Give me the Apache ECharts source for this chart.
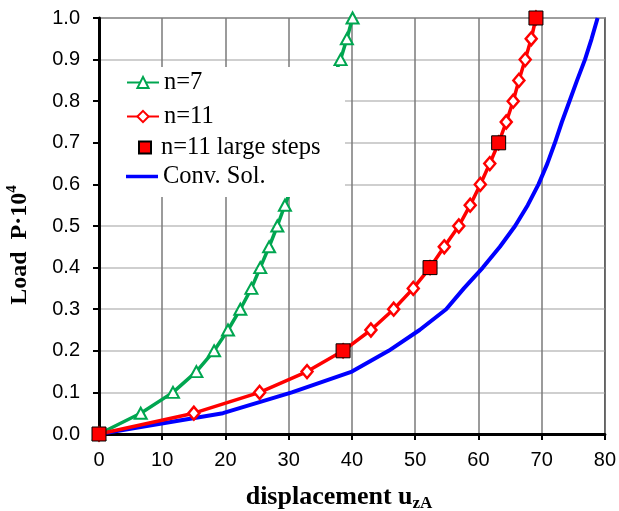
<!DOCTYPE html>
<html>
<head>
<meta charset="utf-8">
<script src="https://cdn.jsdelivr.net/npm/echarts@6/dist/echarts.min.js"></script>
<style>
  html, body { margin: 0; padding: 0; background: #fff; }
  #chart { width: 619px; height: 511px; }
</style>
</head>
<body>
<div id="chart"></div>
<script>
// Load levels (P·10^4) and displacements u_zA for each solution
const n7Load = [0, 0.05, 0.1, 0.15, 0.2, 0.25, 0.3, 0.35, 0.4, 0.45, 0.5, 0.55, 0.9, 0.95, 1.0];
const n7Disp = [0, 6.6, 11.7, 15.4, 18.2, 20.4, 22.35, 24.1, 25.5, 26.9, 28.2, 29.4, 38.2, 39.2, 40.1];

const n11Load = [0, 0.05, 0.1, 0.15, 0.2, 0.25, 0.3, 0.35, 0.4, 0.45, 0.5, 0.55, 0.6, 0.65, 0.7, 0.75, 0.8, 0.85, 0.9, 0.95, 1.0];
const n11Disp = [0, 15.0, 25.4, 32.9, 38.6, 43.0, 46.6, 49.7, 52.35, 54.6, 56.9, 58.7, 60.3, 61.8, 63.2, 64.4, 65.5, 66.4, 67.4, 68.35, 69.1];

const largeLoad = [0, 0.2, 0.4, 0.7, 1.0];
const largeDisp = [0, 38.6, 52.35, 63.2, 69.1];

const convLoad = [0, 0.05, 0.1, 0.15, 0.2, 0.25, 0.3, 0.35, 0.4, 0.45, 0.5, 0.55, 0.6, 0.65, 0.7, 0.75, 0.8, 0.85, 0.9, 0.95, 1.0];
const convDisp = [0, 19.6, 30.5, 40.0, 45.8, 50.7, 54.9, 57.7, 60.7, 63.4, 65.8, 67.8, 69.5, 70.9, 72.1, 73.2, 74.4, 75.6, 76.85, 77.9, 78.85];

const xTicks = { min: 0, max: 80, step: 10 };
const yTicks = { min: 0, max: 1.0, step: 0.1 };

const seriesNames = ['n=7', 'n=11', 'n=11 large steps', 'Conv. Sol.'];

const pairs = (xs, ys) => xs.map((x, i) => [x, ys[i]]);

const GREEN = '#00A650';
const RED = '#FF0000';
const BLUE = '#0000FF';
const serif = '"Liberation Serif", "Times New Roman", serif';
const sans = '"Liberation Sans", Arial, sans-serif';

const legendText = { fontFamily: serif, fontSize: 24.5, color: '#000', lineHeight: 25 };

// one legend block per entry so each row can be placed on its own
function legendRow(name, top, extra) {
  return Object.assign({
    data: [name],
    orient: 'vertical',
    left: 126, top: top,
    padding: 0,
    itemWidth: 32, itemHeight: 14,
    z: 60,
    selectedMode: false,
    textStyle: legendText
  }, extra || {});
}

const chart = echarts.init(document.getElementById('chart'), null, { renderer: 'canvas' });

chart.setOption({
  animation: false,
  backgroundColor: '#fff',
  grid: {
    left: 99, right: 12, top: 18, bottom: 77,
    show: true, borderColor: '#000', borderWidth: 1.5, backgroundColor: 'transparent'
  },
  legend: [
    legendRow(seriesNames[0], 70),
    legendRow(seriesNames[1], 104),
    legendRow(seriesNames[2], 135, {
      left: 138, itemWidth: 12, itemHeight: 12,
      textStyle: Object.assign({}, legendText, { padding: [0, 0, 0, 5] })
    }),
    legendRow(seriesNames[3], 164, {
      data: [{ name: seriesNames[3], icon: 'rect', itemStyle: { color: BLUE } }],
      itemHeight: 3.5
    })
  ],
  xAxis: {
    type: 'value', min: xTicks.min, max: xTicks.max, interval: xTicks.step,
    axisLine: { show: true, onZero: false, lineStyle: { color: '#000', width: 3 } },
    axisTick: { show: true, length: 6, lineStyle: { color: '#000', width: 2 } },
    axisLabel: { margin: 16, fontFamily: sans, fontSize: 20, color: '#000' },
    splitLine: { show: true, lineStyle: { color: '#7a7a7a', width: 1.5 } }
  },
  yAxis: {
    type: 'value', min: yTicks.min, max: yTicks.max, interval: yTicks.step,
    axisLine: { show: true, onZero: false, lineStyle: { color: '#000', width: 3 } },
    axisTick: { show: true, length: 6, lineStyle: { color: '#000', width: 2 } },
    axisLabel: { margin: 19, fontFamily: sans, fontSize: 20, color: '#000',
      formatter: v => v.toFixed(1) },
    splitLine: { show: true, lineStyle: { color: '#bfbfbf', width: 1.5 } }
  },
  graphic: [
    {
      // white legend panel, drawn over the plot lines
      type: 'rect', z: 50,
      shape: { x: 101, y: 67, width: 244, height: 130 },
      style: { fill: '#fff' }
    },
    {
      type: 'text', x: 20, y: 245, rotation: Math.PI / 2, z: 60,
      style: {
        text: '{a|Load  P·10}{b|4}',
        align: 'center', verticalAlign: 'middle',
        rich: {
          a: { fontFamily: serif, fontWeight: 'bold', fontSize: 24, lineHeight: 30, verticalAlign: 'middle', fill: '#000' },
          b: { fontFamily: serif, fontWeight: 'bold', fontSize: 15, lineHeight: 15, verticalAlign: 'top', fill: '#000' }
        }
      }
    },
    {
      type: 'text', x: 339, y: 497, z: 60,
      style: {
        text: '{a|displacement u}{b|zA}',
        align: 'center', verticalAlign: 'middle',
        rich: {
          a: { fontFamily: serif, fontWeight: 'bold', fontSize: 26, lineHeight: 30, verticalAlign: 'middle', fill: '#000' },
          b: { fontFamily: serif, fontWeight: 'bold', fontSize: 17, lineHeight: 17, verticalAlign: 'bottom', fill: '#000' }
        }
      }
    }
  ],
  series: [
    {
      name: 'Conv. Sol.', type: 'line', z: 3, clip: false,
      data: pairs(convDisp, convLoad),
      showSymbol: false, symbol: 'none',
      lineStyle: { color: BLUE, width: 4 },
      itemStyle: { color: BLUE }
    },
    {
      name: 'n=7', type: 'line', z: 4, clip: false,
      data: pairs(n7Disp, n7Load),
      symbol: 'triangle', symbolSize: [12, 11], showAllSymbol: true,
      lineStyle: { color: GREEN, width: 3.5 },
      itemStyle: { color: '#fff', borderColor: GREEN, borderWidth: 2 }
    },
    {
      name: 'n=11', type: 'line', z: 5, clip: false,
      data: pairs(n11Disp, n11Load),
      symbol: 'diamond', symbolSize: [11, 13], showAllSymbol: true,
      lineStyle: { color: RED, width: 3.5 },
      itemStyle: { color: '#fff', borderColor: RED, borderWidth: 2.5 }
    },
    {
      name: 'n=11 large steps', type: 'scatter', z: 6, clip: false,
      data: pairs(largeDisp, largeLoad),
      symbol: 'rect', symbolSize: 14,
      itemStyle: { color: RED, borderColor: '#000', borderWidth: 1, opacity: 1 }
    }
  ]
});
</script>
</body>
</html>
